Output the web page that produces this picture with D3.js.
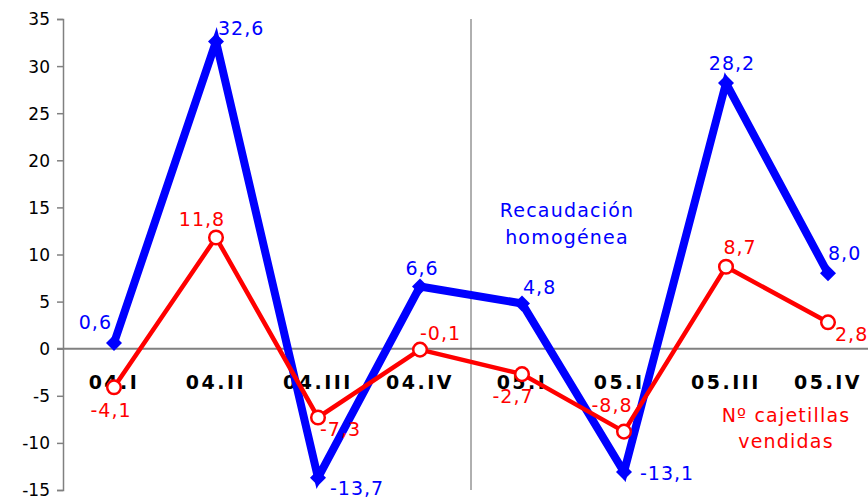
<!DOCTYPE html>
<html>
<head>
<meta charset="utf-8">
<script src="https://cdn.jsdelivr.net/npm/d3@7"></script>
<style>
  html, body { margin: 0; padding: 0; background: #fff; }
  svg { display: block; }
</style>
</head>
<body>
<svg id="chart" width="868" height="498"></svg>
<script>
const categories = ["04.I", "04.II", "04.III", "04.IV", "05.I", "05.II", "05.III", "05.IV"];
const recaudacion = [0.6, 32.6, -13.7, 6.6, 4.8, -13.1, 28.2, 8.0];
const cajetillas = [-4.1, 11.8, -7.3, -0.1, -2.7, -8.8, 8.7, 2.8];
const yTicks = [-15, -10, -5, 0, 5, 10, 15, 20, 25, 30, 35];
const seriesNames = [["Recaudación", "homogénea"], ["Nº cajetillas", "vendidas"]];
// label offsets relative to each point [dx, dy, anchor]
const blueLabelPos = [[-2, -14, "end"], [2, -7, "start"], [12, 17, "start"], [2, -12, "middle"], [1, -9, "start"], [16, 8, "start"], [6, -13, "middle"], [0, -13, "start"]];
const redLabelPos = [[-3, 30, "middle"], [-14, -12, "middle"], [2, 19, "start"], [0, -10, "start"], [-9, 29, "middle"], [-12, -20, "middle"], [14, -13, "middle"], [7, 19, "start"]];

const svg = d3.select("#chart");
const mLeft = 63, mRight = 879, mTop = 19, mBottom = 490;
const x = d3.scalePoint().domain(categories).range([mLeft, mRight]).padding(0.5);
const y = d3.scaleLinear().domain([-15, 35]).range([mBottom, mTop]);
const fmt = v => d3.format(".1f")(v).replace(".", ",").replace("−", "-");

// y axis
const yAxis = d3.axisLeft(y).tickValues(yTicks).tickSize(6).tickFormat(d => String(d));
const ga = svg.append("g").attr("transform", `translate(${mLeft},0)`).call(yAxis);
ga.select(".domain").attr("stroke", "#808080").attr("stroke-width", 1.5);
ga.selectAll(".tick line").attr("stroke", "#808080").attr("stroke-width", 1.5);
ga.selectAll(".tick text").attr("x", -13).attr("dy", "0.35em")
  .attr("font-family", "DejaVu Sans, Verdana, sans-serif").attr("font-size", 17).attr("fill", "#000");

// zero line
svg.append("line").attr("x1", mLeft - 6).attr("x2", 868).attr("y1", y(0)).attr("y2", y(0))
  .attr("stroke", "#808080").attr("stroke-width", 2);

// separator between years
const sepX = (x(categories[3]) + x(categories[4])) / 2;
svg.append("line").attr("x1", sepX).attr("x2", sepX).attr("y1", mTop).attr("y2", mBottom)
  .attr("stroke", "#606060").attr("stroke-width", 1);

// category labels
svg.append("g").selectAll("text").data(categories).join("text")
  .attr("x", d => x(d)).attr("y", y(0) + 40)
  .attr("text-anchor", "middle")
  .attr("font-family", "DejaVu Sans, Verdana, sans-serif").attr("font-weight", "bold")
  .attr("font-size", 19).attr("letter-spacing", 2.5).attr("fill", "#000")
  .text(d => d);

const line = d3.line().x((d, i) => x(categories[i])).y(d => y(d));

// blue series
svg.append("path").datum(recaudacion).attr("d", line)
  .attr("fill", "none").attr("stroke", "#0000ff").attr("stroke-width", 8).attr("stroke-linejoin", "miter");
svg.append("g").selectAll("path").data(recaudacion).join("path")
  .attr("d", d3.symbol().type(d3.symbolSquare).size(128))
  .attr("transform", (d, i) => `translate(${x(categories[i])},${y(d)}) rotate(45)`)
  .attr("fill", "#0000ff");

// red series
svg.append("path").datum(cajetillas).attr("d", line)
  .attr("fill", "none").attr("stroke", "#ff0000").attr("stroke-width", 4.5);
svg.append("g").selectAll("circle").data(cajetillas).join("circle")
  .attr("cx", (d, i) => x(categories[i])).attr("cy", d => y(d)).attr("r", 6.8)
  .attr("fill", "#fff").attr("stroke", "#ff0000").attr("stroke-width", 2.5);

// data labels
const labelFont = "DejaVu Sans, Verdana, sans-serif";
svg.append("g").selectAll("text").data(recaudacion).join("text")
  .attr("x", (d, i) => x(categories[i]) + blueLabelPos[i][0])
  .attr("y", (d, i) => y(d) + blueLabelPos[i][1])
  .attr("text-anchor", (d, i) => blueLabelPos[i][2])
  .attr("font-family", labelFont).attr("font-size", 19).attr("letter-spacing", 1)
  .attr("fill", "#0000ff").text(d => fmt(d));
svg.append("g").selectAll("text").data(cajetillas).join("text")
  .attr("x", (d, i) => x(categories[i]) + redLabelPos[i][0])
  .attr("y", (d, i) => y(d) + redLabelPos[i][1])
  .attr("text-anchor", (d, i) => redLabelPos[i][2])
  .attr("font-family", labelFont).attr("font-size", 19).attr("letter-spacing", 1)
  .attr("fill", "#ff0000").text(d => fmt(d));

// series name labels
const nameBlue = svg.append("text").attr("text-anchor", "middle")
  .attr("font-family", labelFont).attr("font-size", 19).attr("letter-spacing", 1.2).attr("fill", "#0000ff");
seriesNames[0].forEach((t, k) => nameBlue.append("tspan").attr("x", 567).attr("y", 217 + k * 27).text(t));
const nameRed = svg.append("text").attr("text-anchor", "middle")
  .attr("font-family", labelFont).attr("font-size", 19).attr("letter-spacing", 1.2).attr("fill", "#ff0000");
seriesNames[1].forEach((t, k) => nameRed.append("tspan").attr("x", 786).attr("y", 422 + k * 26).text(t));
</script>
</body>
</html>
